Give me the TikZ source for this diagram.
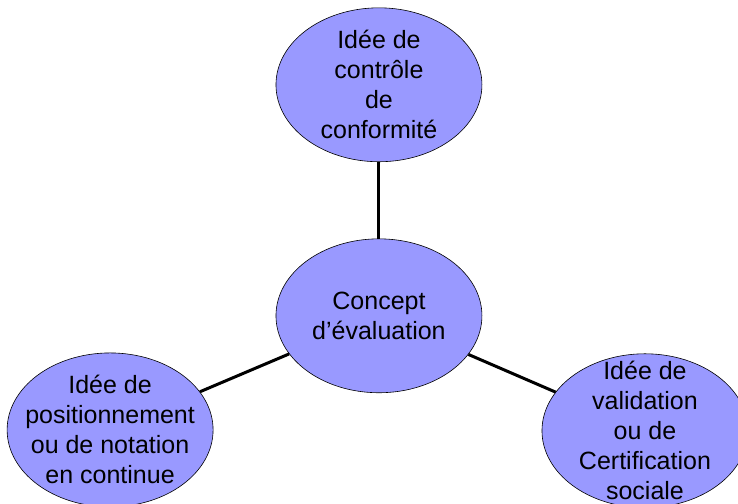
\documentclass[tikz,border=0pt]{standalone}
\usepackage{fontspec}
\setmainfont{Liberation Sans}
\usepackage{xcolor}
\usepackage{tikz}
\usetikzlibrary{shapes.geometric}
\definecolor{bubbleblue}{RGB}{153,153,255}

\begin{document}
\begin{tikzpicture}[
        bubble/.style={draw=black,fill=bubbleblue,ellipse,line width=0.6pt,inner sep=0pt,
                       minimum width=7.24cm,minimum height=5.41cm},
        bubbletext/.style={align=center,font=\fontsize{25}{30}\selectfont},
        link/.style={draw=black,line width=3pt}
    ]
        \useasboundingbox (0,0) rectangle (25.94,17.71);
        \node[bubble,label={[bubbletext]center:Concept\\d’évaluation}] (concept) at (13.32,6.61) {}; %centre
        \node[bubble,label={[bubbletext]center:Idée de\\contrôle\\de\\conformité}] (controle) at (13.32,14.73) {}; %haut
        \node[bubble,label={[bubbletext]center:Idée de\\positionnement\\ou de notation\\ en continue}] (notation) at (3.87,2.60) {}; %gauche
        \node[bubble,label={[bubbletext]center:Idée de\\validation\\ou de\\Certification\\sociale}] (validation) at (22.67,2.57) {}; %droite
        \draw[link] (concept) -- (controle);
        \draw[link] (concept) -- (notation);
        \draw[link] (concept) -- (validation);
    \end{tikzpicture}
\end{document}
